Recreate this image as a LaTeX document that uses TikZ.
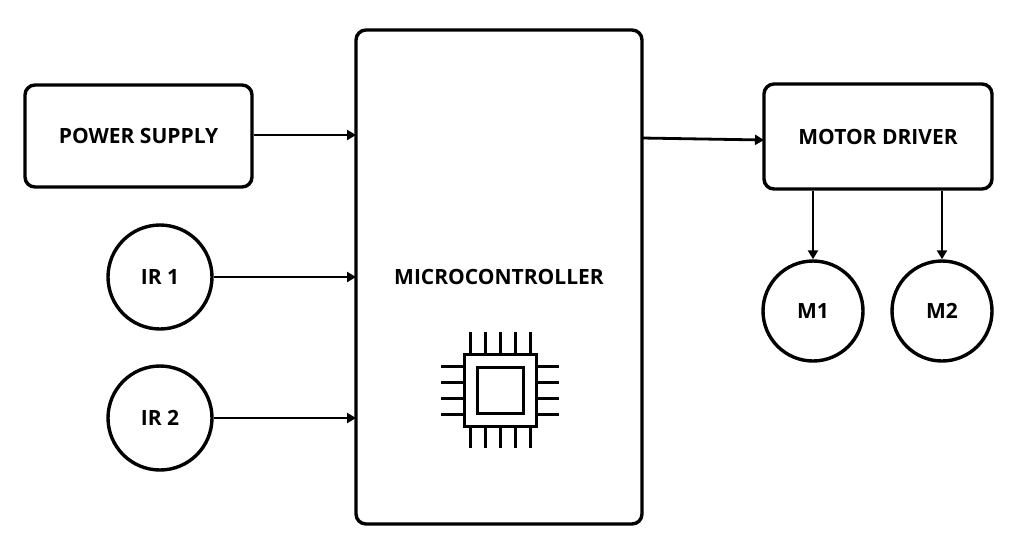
\documentclass[tikz,border=0pt]{standalone}
\usepackage{fontspec}
\setmainfont{Open Sans}
\usetikzlibrary{arrows.meta}
\begin{document}
\begin{tikzpicture}[x=1pt,y=-1pt,
  box/.style={draw,line width=3.4pt,rounded corners=10pt,font=\bfseries\fontsize{21}{24}\selectfont,inner sep=0pt},
  circ/.style={draw,circle,line width=3.4pt,minimum size=100pt,font=\bfseries\fontsize{21}{24}\selectfont,inner sep=0pt},
  arr/.style={line width=2.8pt,-{Triangle[length=9pt,width=10pt]}},
  chip/.style={line width=3pt}]
\useasboundingbox (0,0) rectangle (1024,558);
\node[box,minimum width=227pt,minimum height=102pt] (ps) at (138.5,136) {POWER SUPPLY};
\node[box,minimum width=286pt,minimum height=494pt] (mc) at (499,277) {};
\node[font=\bfseries\fontsize{21}{24}\selectfont] (mct) at (499,277) {MICROCONTROLLER};
\node[box,minimum width=228pt,minimum height=105pt] (md) at (878,136.5) {MOTOR DRIVER};
\node[circ,minimum size=104pt] (ir1) at (160,277) {IR 1};
\node[circ,minimum size=104pt] (ir2) at (160,418) {IR 2};
\node[circ] (m1) at (813,311) {M1};
\node[circ] (m2) at (942,311) {M2};
\coordinate (a1) at (356,135);
\coordinate (a2) at (356,277);
\coordinate (a3) at (356,418);
\coordinate (b0) at (642,138);
\coordinate (b1) at (764,140);
\draw[arr] (ps.east|-a1) -- (a1);
\draw[arr] (ir1.east) -- (a2);
\draw[arr] (ir2.east) -- (a3);
\draw[arr] (b0) -- (b1);
\draw[arr] (md.south-|m1) -- (m1.north);
\draw[arr] (md.south-|m2) -- (m2.north);
% chip icon
\draw[chip] (464,354) rectangle (536,426);
\draw[chip] (477,367) rectangle (523,413);
\foreach \i in {0,...,4} {
  \draw[chip] (470+15*\i,354) -- (470+15*\i,332);
  \draw[chip] (470+15*\i,426) -- (470+15*\i,448);
}
\foreach \i in {0,...,3} {
  \draw[chip] (464,366+16*\i) -- (441,366+16*\i);
  \draw[chip] (536,366+16*\i) -- (559,366+16*\i);
}
\end{tikzpicture}
\end{document}
